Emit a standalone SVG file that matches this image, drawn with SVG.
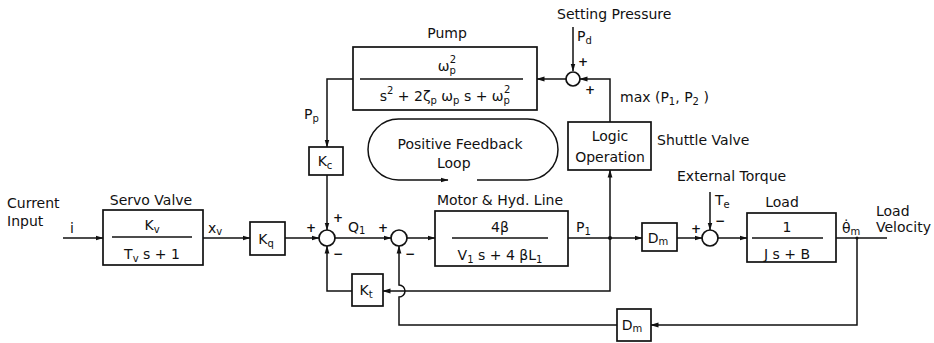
<svg xmlns="http://www.w3.org/2000/svg" width="934" height="343" viewBox="0 0 934 343">
<style>
text{font-family:"DejaVu Sans","Liberation Sans",sans-serif;font-size:14px;fill:#111}
.b{fill:none;stroke:#111;stroke-width:1.7}
.l{fill:none;stroke:#111;stroke-width:1.5}
.s{font-size:10px}
.g{font-size:12px;font-weight:bold}
.m{text-anchor:middle}
</style>
<defs>
<marker id="a" markerWidth="8" markerHeight="6" refX="7.5" refY="3" orient="auto" markerUnits="userSpaceOnUse"><path d="M0,0.6 L8,3 L0,5.4z" fill="#111"/></marker>
</defs>
<rect width="934" height="343" fill="#fff"/>

<g id="connectors">
<path class="l" d="M63,238 H103" marker-end="url(#a)"/>
<path class="l" d="M203,238 H250" marker-end="url(#a)"/>
<path class="l" d="M285,238 H319" marker-end="url(#a)"/>
<path class="l" d="M335,238 H391" marker-end="url(#a)"/>
<path class="l" d="M407,238 H435" marker-end="url(#a)"/>
<path class="l" d="M568,238 H642" marker-end="url(#a)"/>
<path class="l" d="M677,238 H702" marker-end="url(#a)"/>
<path class="l" d="M718,238 H747" marker-end="url(#a)"/>
<path class="l" d="M836,238 H887"/>
<path class="l" d="M857,238 V325 H651" marker-end="url(#a)"/>
<path class="l" d="M617,325 H399 V297 A6,6 0 0 0 399,285 V246" marker-end="url(#a)"/>
<path class="l" d="M610,238 V291 H383" marker-end="url(#a)"/>
<path class="l" d="M352,291 H327 V246" marker-end="url(#a)"/>
<path class="l" d="M610,238 V170" marker-end="url(#a)"/>
<path class="l" d="M610,122 V79 H580" marker-end="url(#a)"/>
<path class="l" d="M573,27 V71" marker-end="url(#a)"/>
<path class="l" d="M566,79 H537" marker-end="url(#a)"/>
<path class="l" d="M353,79 H327 V147" marker-end="url(#a)"/>
<path class="l" d="M327,175 V230" marker-end="url(#a)"/>
<circle cx="610" cy="238" r="2" fill="#111"/>
<circle cx="857" cy="238" r="1.5" fill="#111"/>
</g>

<g id="input-label">
<text x="7" y="208">Current</text>
<text x="7" y="226">Input</text>
<text x="70" y="233">i</text>
</g>

<g id="servo-valve">
<text class="m" x="151" y="205">Servo Valve</text>
<rect class="b" x="103" y="210" width="100" height="55"/>
<line class="l" x1="112" y1="237" x2="192" y2="237"/>
<text class="m" x="152" y="230">K<tspan class="s" dy="3">v</tspan></text>
<text class="m" x="152" y="259">T<tspan class="s" dy="3">v</tspan><tspan dy="-3"> s + 1</tspan></text>
<text x="208" y="233">x<tspan class="s" dy="2">v</tspan></text>
</g>

<g id="kq">
<rect class="b" x="250" y="222" width="35" height="33"/>
<text class="m" x="266" y="244">K<tspan class="s" dy="3">q</tspan></text>
</g>

<g id="sum1">
<circle class="b" cx="327" cy="238" r="8"/>
<text class="g" x="306" y="232">+</text>
<text class="g" x="333" y="222">+</text>
<text class="g" x="333" y="258">−</text>
<text x="348" y="232">Q<tspan class="s" dy="2">1</tspan></text>
</g>

<g id="sum2">
<circle class="b" cx="399" cy="238" r="8"/>
<text class="g" x="378" y="232">+</text>
<text class="g" x="405" y="258">−</text>
</g>

<g id="kc">
<text x="304" y="119">P<tspan class="s" dy="3">p</tspan></text>
<rect class="b" x="309" y="147" width="34" height="28"/>
<text class="m" x="325" y="166">K<tspan class="s" dy="3">c</tspan></text>
</g>

<g id="kt">
<rect class="b" x="352" y="274" width="31" height="32"/>
<text class="m" x="366" y="295">K<tspan class="s" dy="3">t</tspan></text>
</g>

<g id="pump">
<text class="m" x="447" y="38">Pump</text>
<rect class="b" x="353" y="47" width="184" height="63"/>
<line class="l" x1="360" y1="79" x2="523" y2="79"/>
<text class="m" x="447" y="71">ω<tspan class="s" dy="3">p</tspan><tspan class="s" dx="-6" dy="-11">2</tspan></text>
<text class="m" x="445" y="101">s<tspan class="s" dy="-7">2</tspan><tspan dy="7"> + 2ζ</tspan><tspan class="s" dy="3">p</tspan><tspan dy="-3"> ω</tspan><tspan class="s" dy="3">p</tspan><tspan dy="-3"> s  + ω</tspan><tspan class="s" dy="3">p</tspan><tspan class="s" dx="-6" dy="-11">2</tspan></text>
</g>

<g id="setting-sum">
<text x="557" y="19">Setting Pressure</text>
<text x="577" y="41">P<tspan class="s" dy="3">d</tspan></text>
<circle class="b" cx="573" cy="79" r="7"/>
<text class="g" x="578" y="66">+</text>
<text class="g" x="585" y="94">+</text>
<text x="620" y="102">max (P<tspan class="s" dy="3">1</tspan><tspan dy="-3">, P</tspan><tspan class="s" dy="3">2</tspan><tspan dy="-3"> )</tspan></text>
</g>

<g id="logic">
<rect class="b" x="568" y="122" width="83" height="48"/>
<text class="m" x="610" y="141">Logic</text>
<text class="m" x="610" y="162">Operation</text>
<text x="657" y="145">Shuttle Valve</text>
</g>

<g id="positive-loop">
<path class="l" d="M477,180 H527.5 A30.5,30.5 0 0 0 527.5,119 H398.5 A30.5,30.5 0 0 0 398.5,180 H448" marker-end="url(#a)"/>
<text class="m" x="460" y="149">Positive Feedback</text>
<text x="437" y="168">Loop</text>
</g>

<g id="motor">
<text class="m" x="500" y="205">Motor &amp; Hyd. Line</text>
<rect class="b" x="435" y="211" width="133" height="55"/>
<line class="l" x1="452" y1="238" x2="548" y2="238"/>
<text class="m" x="500" y="232">4β</text>
<text class="m" x="500" y="260">V<tspan class="s" dy="3">1</tspan><tspan dy="-3"> s + 4 βL</tspan><tspan class="s" dy="3">1</tspan></text>
<text x="576" y="232">P<tspan class="s" dy="3">1</tspan></text>
</g>

<g id="dm1">
<rect class="b" x="642" y="223" width="35" height="28"/>
<text class="m" x="658" y="243">D<tspan class="s" dy="2">m</tspan></text>
</g>

<g id="sum3">
<text x="677" y="181">External Torque</text>
<path class="l" d="M710,192 V230" marker-end="url(#a)"/>
<text x="715" y="205">T<tspan class="s" dy="3">e</tspan></text>
<circle class="b" cx="710" cy="238" r="8"/>
<text class="g" x="691" y="233">+</text>
<text class="g" x="715" y="225">−</text>
</g>

<g id="load">
<text class="m" x="782" y="207">Load</text>
<rect class="b" x="747" y="213" width="89" height="49"/>
<line class="l" x1="752" y1="238" x2="823" y2="238"/>
<text class="m" x="787" y="232">1</text>
<text class="m" x="787" y="259">J s + B</text>
<text x="842" y="233">θ̇<tspan class="s" dy="2">m</tspan></text>
<text x="876" y="216">Load</text>
<text x="876" y="232">Velocity</text>
</g>

<g id="dm2">
<rect class="b" x="617" y="309" width="34" height="32"/>
<text class="m" x="632" y="330">D<tspan class="s" dy="2">m</tspan></text>
</g>
</svg>
